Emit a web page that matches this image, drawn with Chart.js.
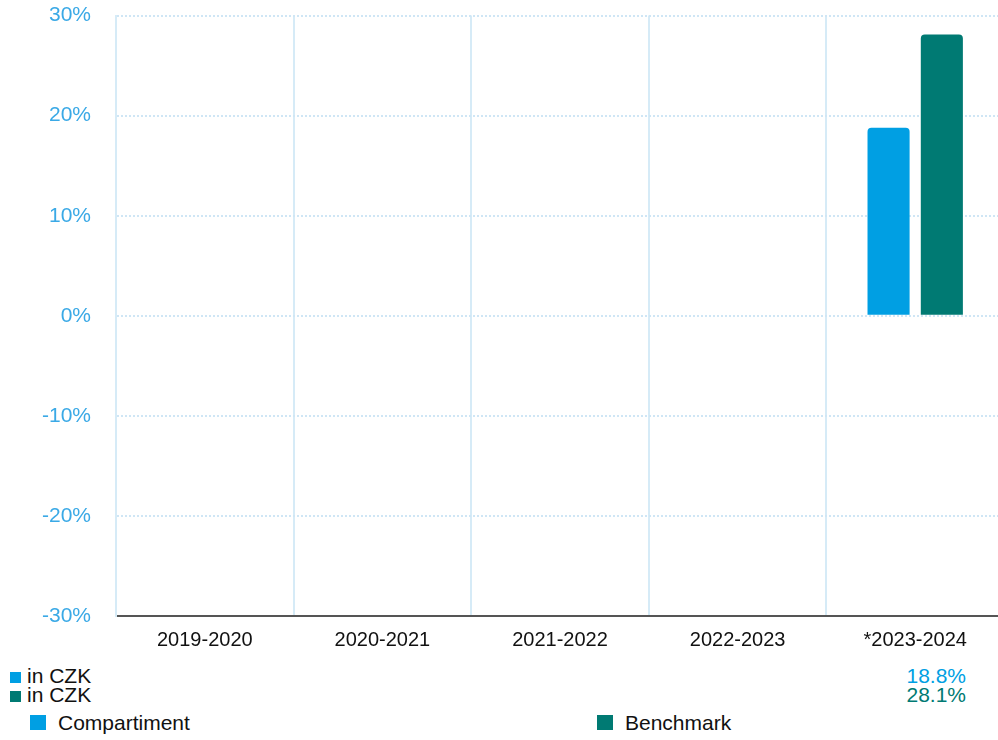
<!DOCTYPE html>
<html>
<head>
<meta charset="utf-8">
<script src="https://cdn.jsdelivr.net/npm/chart.js@4"></script>
<style>
    body { margin: 0; background: #fff; font-family: 'Liberation Sans', Arial, sans-serif; overflow: hidden; }
    #wrap { position: relative; width: 998px; height: 740px; overflow: hidden; }
    #chart-box { position: absolute; left: 0; top: -22px; width: 1004px; height: 682px; }
    .row { position: absolute; left: 10px; width: 956px; font-size: 21px; color: #111; line-height: 20px; }
    .row .sq { display: inline-block; width: 11px; height: 11px; margin-right: 6px; vertical-align: 0px; }
    .row .val { position: absolute; right: 0; top: 0; }
    .leg { position: absolute; font-size: 21px; color: #111; line-height: 20px; }
    .leg .sq { position: absolute; left: 0; top: 2px; width: 16px; height: 15px; }
    .leg span.txt { padding-left: 28px; }
</style>
</head>
<body>
<div id="wrap">
    <div id="chart-box"><canvas id="perf-chart"></canvas></div>
    <div class="row" style="top:666px"><span class="sq" style="background:#009fe3"></span>in CZK<span class="val" id="val-0" style="color:#009fe3"></span></div>
    <div class="row" style="top:685px"><span class="sq" style="background:#007a73"></span>in CZK<span class="val" id="val-1" style="color:#007a73"></span></div>
    <div class="leg" style="left:30px; top:713px"><span class="sq" style="background:#009fe3"></span><span class="txt">Compartiment</span></div>
    <div class="leg" style="left:597px; top:713px"><span class="sq" style="background:#007a73"></span><span class="txt">Benchmark</span></div>
</div>
<script>
const categories = ['2019-2020', '2020-2021', '2021-2022', '2022-2023', '*2023-2024'];
const compartiment = [null, null, null, null, 18.8];
const benchmark = [null, null, null, null, 28.1];
const yTicks = [-30, -20, -10, 0, 10, 20, 30];

const BLUE = '#009fe3';
const TEAL = '#007a73';

document.getElementById('val-0').textContent = compartiment[compartiment.length - 1].toFixed(1) + '%';
document.getElementById('val-1').textContent = benchmark[benchmark.length - 1].toFixed(1) + '%';

const ctx = document.getElementById('perf-chart').getContext('2d');

new Chart(ctx, {
    type: 'bar',
    data: {
        labels: categories,
        datasets: [
            { label: 'Compartiment', data: compartiment, backgroundColor: BLUE,
              borderRadius: { topLeft: 4, topRight: 4 }, borderSkipped: false },
            { label: 'Benchmark', data: benchmark, backgroundColor: TEAL,
              borderRadius: { topLeft: 4, topRight: 4 }, borderSkipped: false }
        ]
    },
    options: {
        responsive: true,
        maintainAspectRatio: false,
        animation: false,
        categoryPercentage: 0.6,
        barPercentage: 0.79,
        layout: { padding: { top: 4, right: 0, left: 0, bottom: 0 } },
        plugins: {
            legend: { display: false },
            tooltip: { enabled: false }
        },
        scales: {
            x: {
                grid: { color: '#d6ebf7', lineWidth: 2, drawTicks: false, offset: true },
                border: { color: '#555', width: 2 },
                ticks: { color: '#111', font: { family: 'Liberation Sans', size: 20 }, padding: 12, maxRotation: 0 },
                afterFit: (s) => { s.height = 44; }
            },
            y: {
                min: -30,
                max: 30,
                afterBuildTicks: (s) => { s.ticks = yTicks.map(v => ({ value: v })); },
                grid: { color: '#cfe6f5', lineWidth: 2, drawTicks: false },
                border: { color: '#d6ebf7', width: 2, dash: [2, 2] },
                ticks: {
                    color: '#3aa9e6',
                    font: { family: 'Liberation Sans', size: 21 },
                    padding: 25,
                    callback: (v) => v + '%'
                },
                afterFit: (s) => { s.width = 116; }
            }
        }
    }
});
</script>
</body>
</html>
